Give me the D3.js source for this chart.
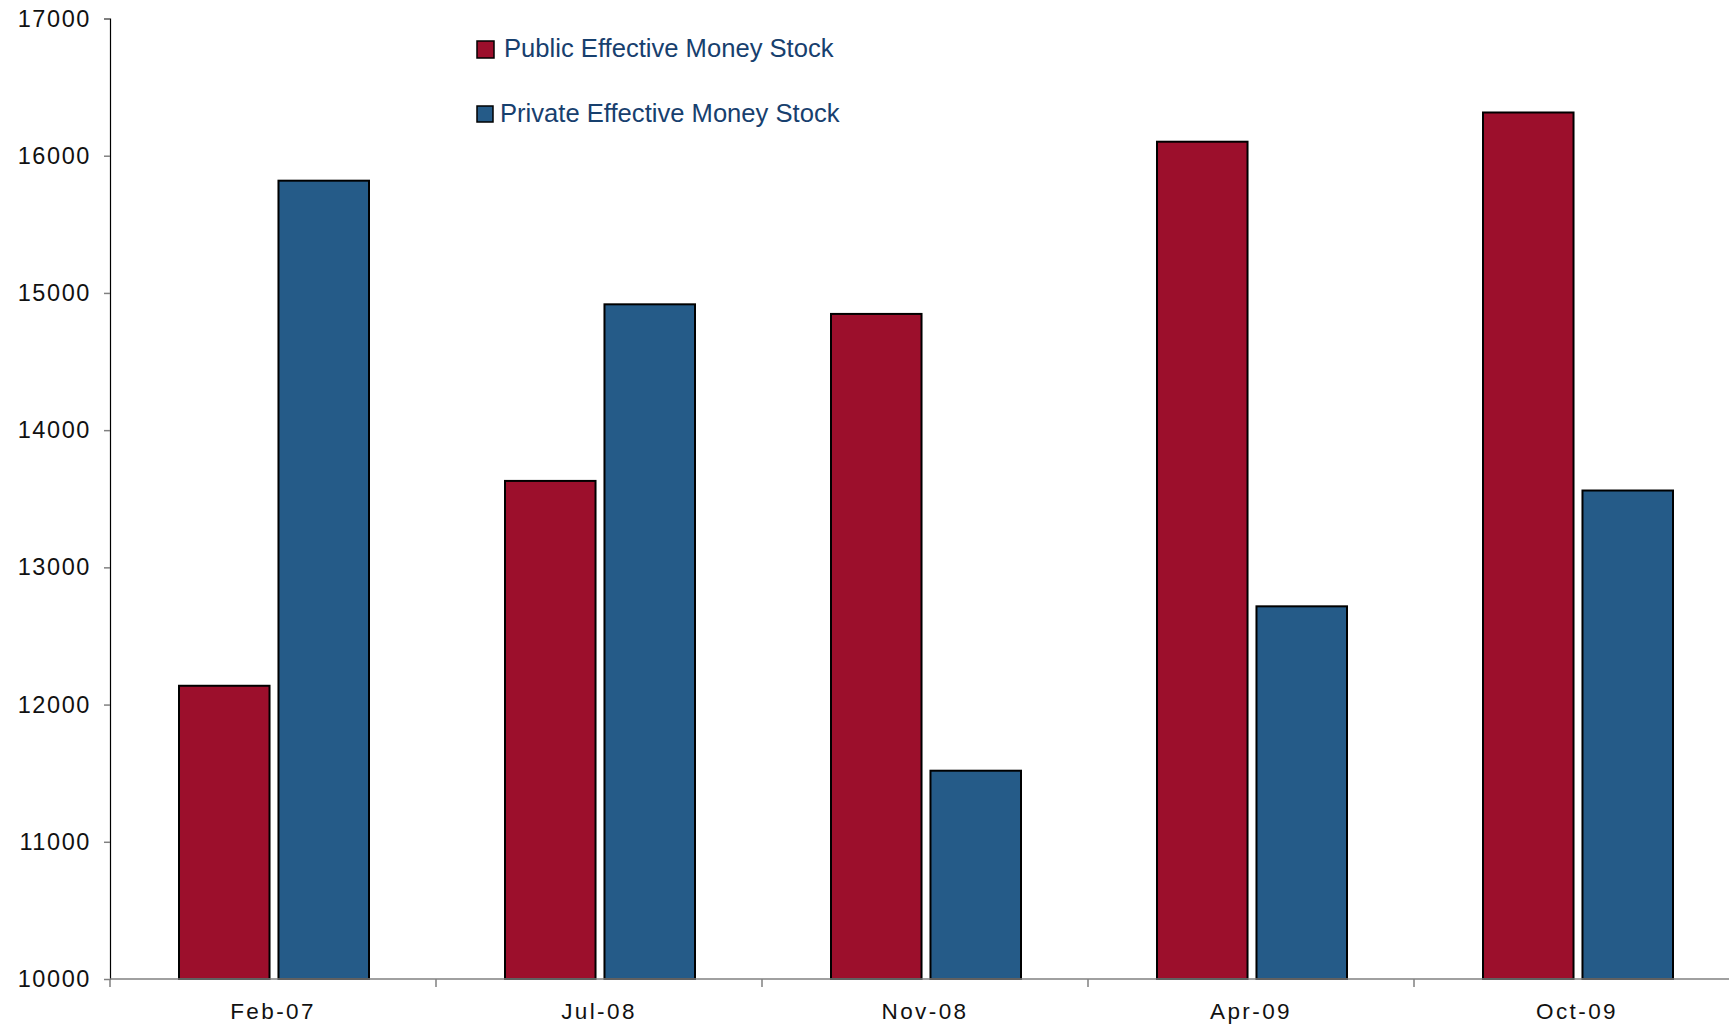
<!DOCTYPE html>
<html>
<head>
<meta charset="utf-8">
<script src="https://cdn.jsdelivr.net/npm/d3@7"></script>
<style>
  html, body { margin: 0; padding: 0; background: #fff; }
  svg { display: block; font-family: "Liberation Sans", Arial, sans-serif; }
</style>
</head>
<body>
<svg id="chart" width="1729" height="1025"></svg>
<script>
const categories = ["Feb-07", "Jul-08", "Nov-08", "Apr-09", "Oct-09"];
const seriesNames = ["Public Effective Money Stock", "Private Effective Money Stock"];
const publicValues = [12137, 13630, 14847, 16102, 16315];
const privateValues = [15818, 14917, 11518, 12716, 13560];
const yTicks = [10000, 11000, 12000, 13000, 14000, 15000, 16000, 17000];
const colors = ["#9c0f2c", "#255b88"];

const svg = d3.select("#chart");
const plotLeft = 110, plotRight = 1740, plotTop = 18.5, plotBottom = 979;

const x = d3.scaleBand().domain(categories).range([plotLeft, plotRight]).padding(0);
const inner = d3.scaleBand().domain(seriesNames).range([0, 190]).paddingInner(0.09);
const innerOffset = (x.bandwidth() - 190) / 2 + 1;
const y = d3.scaleLinear().domain([10000, 17000]).range([plotBottom, plotTop]);

const rows = categories.map((c, i) => ({ cat: c, vals: [publicValues[i], privateValues[i]] }));

// bars
const g = svg.append("g");
rows.forEach(r => {
  r.vals.forEach((v, j) => {
    g.append("rect")
      .attr("x", x(r.cat) + innerOffset + inner(seriesNames[j]))
      .attr("y", y(v))
      .attr("width", inner.bandwidth())
      .attr("height", y(10000) - y(v))
      .attr("fill", colors[j])
      .attr("stroke", "#000")
      .attr("stroke-width", 2);
  });
});

// y axis
const yAxis = svg.append("g")
  .attr("transform", `translate(${plotLeft},0)`)
  .call(d3.axisLeft(y).tickValues(yTicks).tickFormat(d3.format("d")).tickSize(6).tickPadding(13));
yAxis.select(".domain").attr("stroke", "#000").attr("stroke-width", 1.2);
yAxis.selectAll(".tick line").attr("stroke", "#808080").attr("stroke-width", 1.5);
yAxis.selectAll(".tick text")
  .attr("fill", "#111")
  .style("font-size", "23.5px")
  .style("letter-spacing", "1.6px");

// x axis
const xAxis = svg.append("g")
  .attr("transform", `translate(0,${plotBottom})`)
  .call(d3.axisBottom(x).tickSize(0).tickPadding(24));
xAxis.select(".domain").remove();
xAxis.append("line")
  .attr("x1", plotLeft).attr("x2", plotRight).attr("y1", 0).attr("y2", 0)
  .attr("stroke", "#808080").attr("stroke-width", 1.5);
categories.forEach(c => {
  xAxis.append("line")
    .attr("x1", x(c)).attr("x2", x(c)).attr("y1", 0).attr("y2", 8)
    .attr("stroke", "#808080").attr("stroke-width", 1.5);
});
xAxis.selectAll(".tick text")
  .attr("fill", "#111")
  .style("font-size", "22.5px")
  .style("letter-spacing", "2.4px");

// legend
const legend = [
  { name: seriesNames[0], color: colors[0], rx: 477, ry: 41, size: 17, tx: 504, ty: 57 },
  { name: seriesNames[1], color: colors[1], rx: 477, ry: 106, size: 16, tx: 500, ty: 122 }
];
legend.forEach(l => {
  svg.append("rect")
    .attr("x", l.rx).attr("y", l.ry).attr("width", l.size).attr("height", l.size)
    .attr("fill", l.color).attr("stroke", "#000").attr("stroke-width", 1.5);
  svg.append("text")
    .attr("x", l.tx).attr("y", l.ty)
    .attr("fill", "#17406e")
    .style("font-size", "25.6px")
    .text(l.name);
});
</script>
</body>
</html>
